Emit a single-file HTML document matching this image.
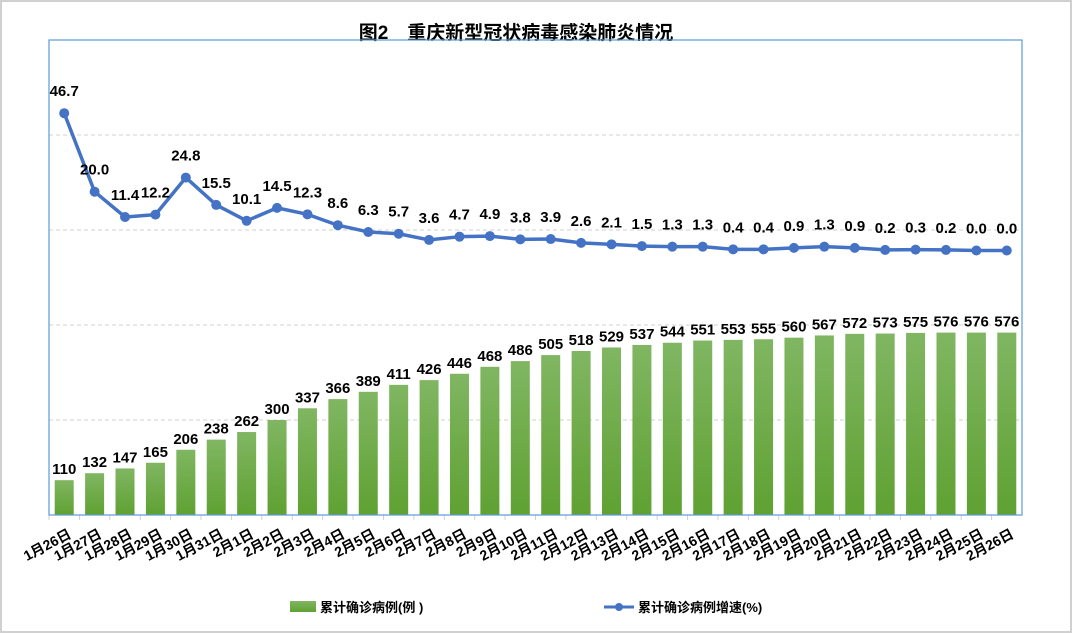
<!DOCTYPE html>
<html><head><meta charset="utf-8"><style>
body{margin:0;background:#fff;}
svg{display:block;font-family:"Liberation Sans","Noto Sans CJK SC",sans-serif;}
</style></head><body>
<svg id="chart" width="1072" height="633">
<rect x="1" y="1" width="1070" height="631" fill="#fff" stroke="#d0d0d0" stroke-width="2"/>
<text x="516" y="39" text-anchor="middle" font-size="19" font-weight="bold" fill="#000" font-family="'Liberation Sans','Noto Sans CJK SC',sans-serif">图2　重庆新型冠状病毒感染肺炎情况</text>
<defs><linearGradient id="gb" x1="0" y1="0" x2="0" y2="1"><stop offset="0" stop-color="#80b662"/><stop offset="1" stop-color="#5fa132"/></linearGradient></defs>
<g id="grid"></g><g id="bars"></g><g id="line"></g><g id="xlabels"></g>
<rect x="49" y="40" width="973" height="475" fill="none" stroke="#5b9bd5" stroke-width="1.2"/>
<g>
<rect x="290" y="601" width="26" height="11" fill="url(#gb)"/>
<text x="320" y="612" font-size="13" font-weight="bold">累计确诊病例(例 )</text>
<line x1="604" y1="607" x2="634" y2="607" stroke="#4472c4" stroke-width="3"/>
<circle cx="619" cy="607" r="4" fill="#4472c4"/>
<text x="638" y="612" font-size="13" font-weight="bold">累计确诊病例增速(%)</text>
</g>
</svg>
<script>
const categories=["1月26日","1月27日","1月28日","1月29日","1月30日","1月31日","2月1日","2月2日","2月3日","2月4日","2月5日","2月6日","2月7日","2月8日","2月9日","2月10日","2月11日","2月12日","2月13日","2月14日","2月15日","2月16日","2月17日","2月18日","2月19日","2月20日","2月21日","2月22日","2月23日","2月24日","2月25日","2月26日"];
const cases=[110,132,147,165,206,238,262,300,337,366,389,411,426,446,468,486,505,518,529,537,544,551,553,555,560,567,572,573,575,576,576,576];
const growth=[46.7,20.0,11.4,12.2,24.8,15.5,10.1,14.5,12.3,8.6,6.3,5.7,3.6,4.7,4.9,3.8,3.9,2.6,2.1,1.5,1.3,1.3,0.4,0.4,0.9,1.3,0.9,0.2,0.3,0.2,0.0,0.0];
const gridTicks=[300,600,900,1200];
const NS="http://www.w3.org/2000/svg";
const L=49,R=1022,T=40,B=515,slot=(R-L)/categories.length;
const xC=i=>L+slot*(i+0.5);
const yBar=v=>B-v*(B-T)/1500;
const yLine=v=>250.5-v*2.94;
function mk(tag,attrs,parent){const e=document.createElementNS(NS,tag);for(const k in attrs)e.setAttribute(k,attrs[k]);parent.appendChild(e);return e;}
const grid=document.getElementById('grid'),bars=document.getElementById('bars'),line=document.getElementById('line'),xl=document.getElementById('xlabels');
gridTicks.forEach(t=>{const g=mk('line',{x1:L,x2:R,y1:yBar(t),y2:yBar(t),stroke:'#d0d0d0','stroke-dasharray':'4,3'},grid);

});
const ax=mk('line',{x1:L,x2:R,y1:B,y2:B,stroke:'#d0d0d0'},grid);


categories.forEach((c,i)=>{
 const tk=mk('line',{x1:L+slot*i,x2:L+slot*i,y1:B,y2:B+5,stroke:'#d0d0d0'},grid);
 
 
 const bw=19,y=yBar(cases[i]);
 const r=mk('rect',{x:xC(i)-bw/2,y:y,width:bw,height:B-y,fill:'url(#gb)'},bars);
 
 
 const t=mk('text',{x:xC(i),y:y-6,'text-anchor':'middle','font-size':15,'font-weight':'bold'},bars);
 t.textContent=cases[i];
 
 
 const lx=xC(i)+8,ly=B+22;
 const xt=mk('text',{x:lx,y:ly,'text-anchor':'end','font-size':14,'font-weight':'bold',transform:`rotate(-28 ${lx} ${ly})`},xl);
 xt.textContent=c;
 
 
});
const pts=growth.map((v,i)=>xC(i)+','+yLine(v)).join(' ');
const pl=mk('polyline',{points:pts,fill:'none',stroke:'#4472c4','stroke-width':3.5,'stroke-linejoin':'round'},line);


growth.forEach((v,i)=>{
 const c=mk('circle',{cx:xC(i),cy:yLine(v),r:5,fill:'#4472c4'},line);
 
 
 const t=mk('text',{x:xC(i),y:yLine(v)-17,'text-anchor':'middle','font-size':15,'font-weight':'bold'},line);
 t.textContent=v.toFixed(1);
 
 
});
</script>
</body></html>
